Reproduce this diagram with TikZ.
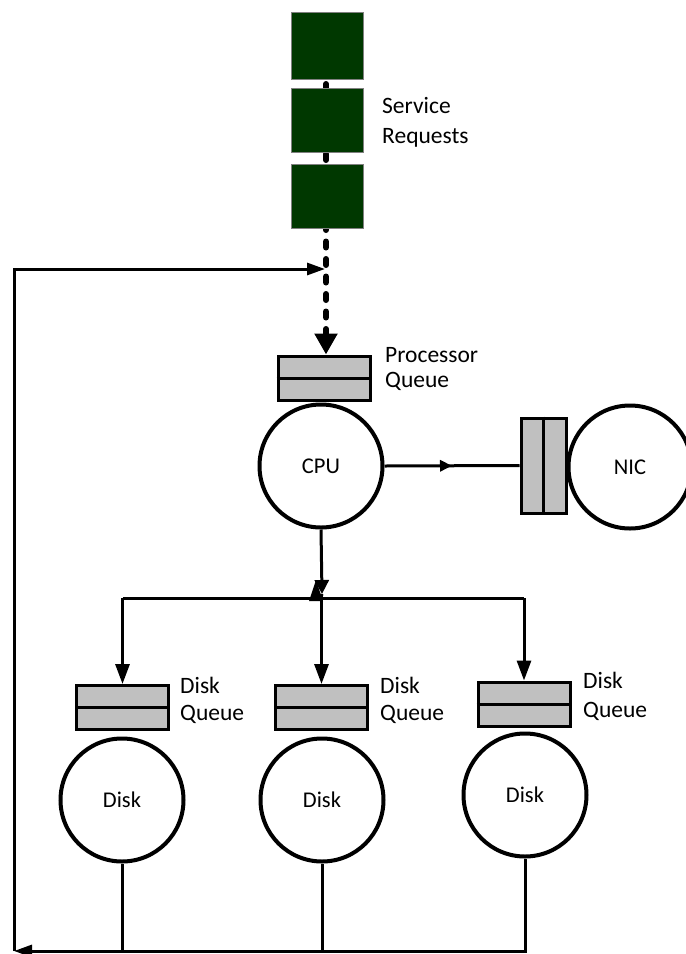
\documentclass[tikz,border=0pt]{standalone}
\usepackage{fontspec}
\setmainfont{Carlito}
\usetikzlibrary{arrows.meta,decorations.markings}
\definecolor{reqgreen}{RGB}{0,56,0}
\definecolor{qgray}{RGB}{192,192,192}
\pgfdeclarelayer{bg}
\pgfsetlayers{bg,main}
\begin{document}
\begin{tikzpicture}[x=1pt,y=-1pt,
  lbl/.style={font=\fontsize{23.5}{27}\selectfont, align=left, anchor=west, inner sep=0pt},
  circ/.style={circle, draw, line width=4pt, minimum size=123pt, inner sep=0pt, font=\fontsize{22.5}{27}\selectfont},
  hq/.style={rectangle, draw, fill=qgray, line width=3pt, minimum width=92pt, minimum height=44pt, inner sep=0pt},
  vq/.style={rectangle, draw, fill=qgray, line width=3pt, minimum width=45pt, minimum height=95pt, inner sep=0pt},
  req/.style={rectangle, draw=gray, fill=reqgreen, line width=0.6pt, minimum width=72pt, inner sep=0pt},
  conn/.style={line width=3pt},
  dtip/.style={-{Triangle[length=20pt,width=14pt]}},
  ftip/.style={-{Triangle[length=18pt,width=12pt]}}
]
\clip (0,0) rectangle (686,954);

% service requests
\node[req, minimum height=67pt] (r1) at (327,45.5) {};
\node[req, minimum height=64pt] (r2) at (327,120) {};
\node[req, minimum height=64pt] (r3) at (327,196) {};
\node[lbl, font=\fontsize{23.5}{30}\selectfont] (srl) at (382,122) {Service\\Requests};

% processor queue and CPU
\node[hq] (pq) at (324,378) {};
\draw[line width=3pt] (pq.west) -- (pq.east);
\node[lbl, font=\fontsize{23.5}{25}\selectfont] (pql) at (385,369) {Processor\\Queue};
\node[circ] (cpu) at (321,466) {CPU};

% NIC
\node[vq] (nq) at (543.5,465.5) {};
\draw[line width=3pt] (nq.north) -- (nq.south);
\node[circ] (nic) at (630,467) {NIC};

% disks
\node[hq] (d1q) at (122.5,707.5) {};
\node[hq] (d2q) at (321.5,707.5) {};
\node[hq] (d3q) at (524,704) {};
\foreach \q in {d1q,d2q,d3q}{\draw[line width=3pt] (\q.west) -- (\q.east);}
\node[lbl] (d1l) at (180,700) {Disk\\Queue};
\node[lbl] (d2l) at (380,700) {Disk\\Queue};
\node[lbl, font=\fontsize{23.5}{29}\selectfont] (d3l) at (583,696) {Disk\\Queue};
\node[circ] (d1) at (122,800) {Disk};
\node[circ] (d2) at (322,800) {Disk};
\node[circ] (d3) at (525,795) {Disk};

% coordinates
\coordinate (j) at (322,598);
\coordinate (bl) at (14,951);
\coordinate (tl) at (14,269);
\coordinate (fb) at (325,269);
\coordinate (ds) at (326,84);

% dashed request flow (behind the boxes)
\begin{pgfonlayer}{bg}
\draw[line width=6pt, line cap=round, dash pattern=on 6pt off 11.5pt,
      -{Triangle[length=21pt,width=22pt]}] (ds) -- (ds |- pq.north);
\end{pgfonlayer}

% CPU -> NIC
\draw[conn, postaction={decorate}, decoration={markings,
   mark=at position 0.5 with {\arrow{Triangle[length=12pt,width=11pt]}}}]
   (cpu.east) -- (nq.west);

% CPU -> disks
\draw[conn, -{Triangle[length=14pt,width=14pt]}] (cpu.south) -- (322,594);
\fill (316,580) -- (309,601) -- (323,601) -- cycle;
\draw[conn] (d1q.north |- j) -- (d3q.north |- j);
\draw[conn] (cpu.south |- j) -- (322,594);
\draw[conn, dtip] (d1q.north |- j) -- (d1q.north);
\draw[conn, dtip] (d2q.north |- j) -- (d2q.north);
\draw[conn, dtip] (d3q.north |- j) -- (d3q.north);

% feedback
\draw[conn] (d1.south) -- (d1.south |- bl);
\draw[conn] (d2.south) -- (d2.south |- bl);
\draw[conn, ftip] (d3.south) -- (d3.south |- bl) -- (bl);
\draw[conn, ftip] (bl) -- (tl) -- (fb);
\end{tikzpicture}
\end{document}
